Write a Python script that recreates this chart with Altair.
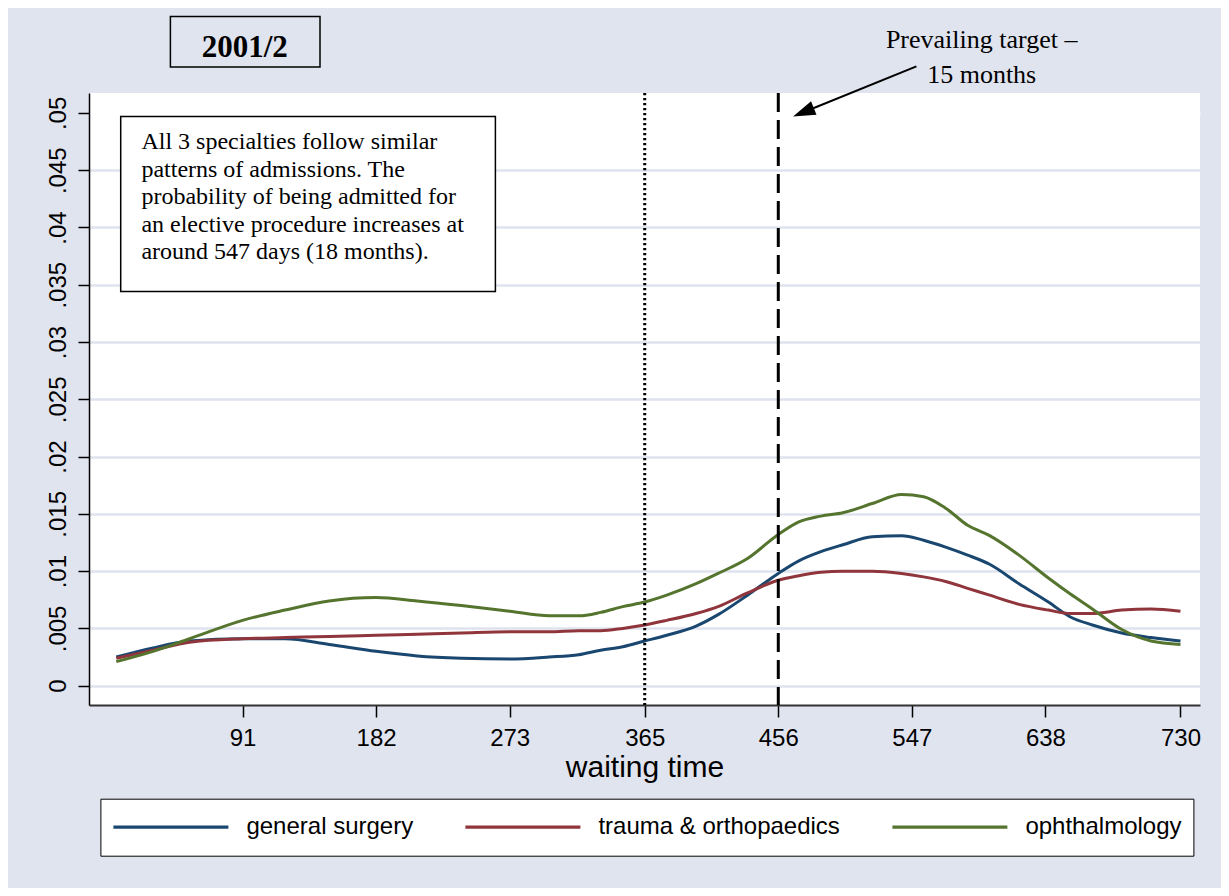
import altair as alt
import pandas as pd

# ---------------- data ----------------
days = [5, 30, 55, 91, 120, 150, 182, 210, 240, 273, 300, 320, 335, 350, 365, 380,
        400, 415, 435, 456, 470, 485, 500, 520, 540, 555, 570, 585, 600, 620, 640,
        655, 670, 690, 710, 730]
general_surgery = [0.0025, 0.0033, 0.0039, 0.0041, 0.0041, 0.0036, 0.0030, 0.0026, 0.0024,
                   0.00233, 0.0025, 0.0027, 0.0031, 0.0034, 0.0039, 0.0044, 0.0052, 0.0062,
                   0.0079, 0.0098, 0.0109, 0.0117, 0.0123, 0.0130, 0.0131, 0.0127, 0.0121,
                   0.0114, 0.0106, 0.0089, 0.0073, 0.0060, 0.0053, 0.0046, 0.0042, 0.0039]
trauma_orthopaedics = [0.0024, 0.0031, 0.0038, 0.0041, 0.0042, 0.0043, 0.0044, 0.0045, 0.0046,
                       0.0047, 0.0047, 0.0048, 0.0048, 0.0050, 0.0053, 0.0057, 0.0063, 0.0069,
                       0.0081, 0.0092, 0.0096, 0.0099, 0.0100, 0.0100, 0.0098, 0.0095, 0.0091,
                       0.0085, 0.0079, 0.0071, 0.0066, 0.0063, 0.0063, 0.0066, 0.0067, 0.0065]
ophthalmology = [0.0021, 0.0030, 0.0041, 0.0057, 0.0066, 0.0074, 0.0077, 0.0074, 0.0070,
                 0.0065, 0.0061, 0.0061, 0.0064, 0.0069, 0.0073, 0.0079, 0.0089, 0.0098,
                 0.0111, 0.0132, 0.0143, 0.0148, 0.0151, 0.0159, 0.0167, 0.0165, 0.0155,
                 0.0140, 0.0131, 0.0114, 0.0094, 0.0080, 0.0067, 0.0049, 0.0039, 0.0036]

series_names = ["general surgery", "trauma & orthopaedics", "ophthalmology"]
series_colors = ["#1a476f", "#90353b", "#55752f"]

x_ticks = [91, 182, 273, 365, 456, 547, 638, 730]
y_ticks = [0, 0.005, 0.01, 0.015, 0.02, 0.025, 0.03, 0.035, 0.04, 0.045, 0.05]
dotted_x = [365]
dashed_x = [456]

note_lines = ["All 3 specialties follow similar",
              "patterns of admissions. The",
              "probability of being admitted for",
              "an elective procedure increases at",
              "around 547 days (18 months)."]
arrow_lines = ["Prevailing target \u2013", "15 months"]
panel_title = "2001/2"

BG = "#e0e4ef"
GRID = "#dfe3ee"

# ---------------- table ----------------
rows = []
for name, vals in zip(series_names, [general_surgery, trauma_orthopaedics, ophthalmology]):
    for d, v in zip(days, vals):
        rows.append({"day": d, "value": v, "series": name})
df = pd.DataFrame(rows)

x_scale = alt.Scale(domain=[-13.6, 743.3], nice=False, zero=False)
y_scale = alt.Scale(domain=[-0.001686, 0.05174], nice=False, zero=False)

x_axis = alt.Axis(values=x_ticks, grid=False, title="waiting time",
                  labelFont="Liberation Sans", labelFontSize=24, labelColor="black",
                  labelPadding=9, tickSize=12, tickWidth=1.5, tickColor="black",
                  domainColor="#333333", domainWidth=2,
                  titleFont="Liberation Sans", titleFontSize=30, titleFontWeight="normal",
                  titleColor="black", titleBaseline="alphabetic", titleY=71)
y_axis = alt.Axis(values=y_ticks, title=None,
                  labelExpr="datum.value == 0 ? '0' : substring(format(datum.value, '.3~f'), 1)",
                  labelFont="Liberation Sans", labelFontSize=24, labelColor="black",
                  labelAngle=270, labelAlign="center", labelBaseline="alphabetic",
                  labelPadding=13, tickSize=11, tickWidth=1.5, tickColor="black",
                  domainColor="black", domainWidth=1.5,
                  grid=True, gridWidth=2.5,
                  gridColor=alt.condition("datum.value > 0.049", alt.value("white"), alt.value(GRID)))

legend = alt.Legend(orient="none", legendX=11.4, legendY=705.7, direction="horizontal",
                    symbolType="stroke", symbolSize=13225, symbolStrokeWidth=3.2,
                    clipHeight=35, labelFont="Liberation Sans", labelFontSize=24,
                    labelColor="black", labelOffset=16, labelLimit=400, columnPadding=50,
                    padding=11, fillColor="white", strokeColor="black", symbolOffset=0)

lines = alt.Chart(df).mark_line(strokeWidth=3, interpolate="monotone").encode(
    x=alt.X("day:Q", scale=x_scale, axis=x_axis),
    y=alt.Y("value:Q", scale=y_scale, axis=y_axis),
    color=alt.Color("series:N", scale=alt.Scale(domain=series_names, range=series_colors),
                    legend=legend, title=None),
)

dotted = alt.Chart(pd.DataFrame({"day": dotted_x})).mark_rule(
    color="black", strokeWidth=3, strokeDash=[2.2, 2.8], strokeCap="butt").encode(
    x=alt.X("day:Q", scale=x_scale))
dashed = alt.Chart(pd.DataFrame({"day": dashed_x})).mark_rule(
    color="black", strokeWidth=3, strokeDash=[19, 8]).encode(x=alt.X("day:Q", scale=x_scale))

one = pd.DataFrame({"k": [0]})

note_box = alt.Chart(one).mark_rect(fill="white", stroke="black", strokeWidth=1.5).encode(
    x=alt.value(31.7), x2=alt.value(406.4), y=alt.value(23.4), y2=alt.value(198.4))
note_text = alt.Chart(one).mark_text(align="left", baseline="alphabetic", font="Liberation Serif",
                                     fontSize=24, lineHeight=27.5, color="black").encode(
    x=alt.value(52.4), y=alt.value(56), text=alt.value(note_lines))

title_box = alt.Chart(one).mark_rect(fill=BG, stroke="black", strokeWidth=1.5).encode(
    x=alt.value(81.4), x2=alt.value(231), y=alt.value(-76.6), y2=alt.value(-26))
title_text = alt.Chart(one).mark_text(align="center", baseline="alphabetic", font="Liberation Serif",
                                      fontSize=31, fontWeight="bold", color="black").encode(
    x=alt.value(155.7), y=alt.value(-36), text=alt.value(panel_title))

arrow_text = alt.Chart(one).mark_text(align="center", baseline="alphabetic", font="Liberation Serif",
                                      fontSize=26, lineHeight=35, color="black").encode(
    x=alt.value(892.7), y=alt.value(-45), text=alt.value(arrow_lines))
arrow_line = alt.Chart(one).mark_rule(color="black", strokeWidth=2).encode(
    x=alt.value(827.4), y=alt.value(-26.6), x2=alt.value(714.4), y2=alt.value(19.2))
arrow_head = alt.Chart(one).mark_point(shape="M0,-1L0.65,1L-0.65,1Z", filled=True, color="black",
                                       opacity=1, size=500, angle=248, strokeWidth=0).encode(
    x=alt.value(714.4), y=alt.value(19.2))

chart = alt.layer(
    lines, dotted, dashed, note_box, note_text, title_box, title_text,
    arrow_text, arrow_line, arrow_head
).properties(
    width=1111, height=612,
    autosize=alt.AutoSizeParams(type="none"),
    padding={"left": 81, "top": 85, "right": 21, "bottom": 183},
    background=BG,
).configure_view(fill="white", strokeWidth=0)

chart.save("out.html", embed_options={"renderer": "svg", "actions": False})
